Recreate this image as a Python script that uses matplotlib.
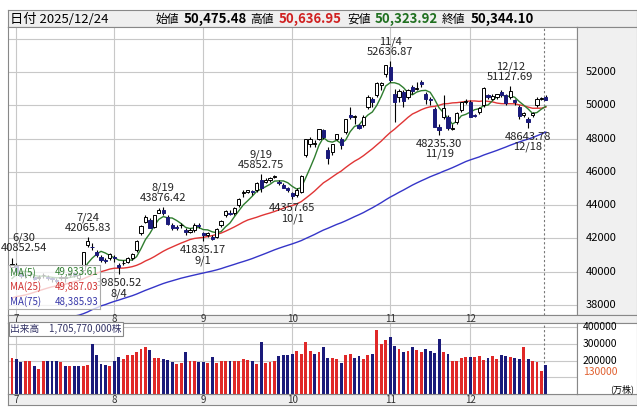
import matplotlib
matplotlib.use("Agg")
import matplotlib.pyplot as plt
import numpy as np
import pandas as pd

plt.rcParams['font.family'] = ['Noto Sans CJK JP', 'DejaVu Sans']

# closes before the visible window (for moving averages)
pre_closes = [36819,36790,37053,37396,37845,37751,37677,37608,37780,38027,37799,37120,
 35617,35624,35725,34735,33780,31136,33012,31714,34609,33585,33982,34267,33920,34377,34730,
 34279,34220,34868,35039,35705,35839,36045,
 36452,36830,36779,36928,37503,37644,38183,38128,37755,37753,37498,37529,37298,36985,37160,
 37531,37724,38722,38432,37965,
 37470,37446,37747,37554,37741,38088,38211,38421,38173,37834,38311,38536,38885,38488,38403,
 38354,38790,38942,39584,40150]

dates = ["6/30","7/1","7/2","7/3","7/4","7/7","7/8","7/9","7/10","7/11","7/14","7/15","7/16","7/17","7/18","7/22","7/23","7/24","7/25","7/28","7/29","7/30","7/31",
 "8/1","8/4","8/5","8/6","8/7","8/8","8/12","8/13","8/14","8/15","8/18","8/19","8/20","8/21","8/22","8/25","8/26","8/27","8/28","8/29",
 "9/1","9/2","9/3","9/4","9/5","9/8","9/9","9/10","9/11","9/12","9/16","9/17","9/18","9/19","9/22","9/24","9/25","9/26","9/29","9/30",
 "10/1","10/2","10/3","10/6","10/7","10/8","10/9","10/10","10/14","10/15","10/16","10/17","10/20","10/21","10/22","10/23","10/24","10/27","10/28","10/29","10/30","10/31",
 "11/4","11/5","11/6","11/7","11/10","11/11","11/12","11/13","11/14","11/17","11/18","11/19","11/20","11/21","11/25","11/26","11/27","11/28",
 "12/1","12/2","12/3","12/4","12/5","12/8","12/9","12/10","12/11","12/12","12/15","12/16","12/17","12/18","12/19","12/22","12/23","12/24"]

opens = [40300,40400,39900,39800,39800,39700,39600,39800,39700,39600,39500,39600,39600,39800,39900,39600,40100,41600,41500,41200,40900,40700,40800,
 40900,40400,40500,40600,40800,41300,42300,43000,43100,42700,43500,43700,43300,42800,42700,42800,42500,42400,42500,42800,
 42300,42200,42100,42100,42800,43400,43500,43500,44000,44700,44800,44800,44900,45500,45400,45500,45700,45400,45200,45000,
 44700,44600,44800,47000,47700,47700,48000,48500,47300,47200,48000,48000,48400,49400,49300,48800,48800,49900,50400,50600,51200,51900,
 52300,50700,50500,50800,50500,51100,51000,51400,50700,50400,49800,48700,49300,49300,48600,49000,49700,50200,
 50200,49400,49600,50000,50600,50400,50500,50800,50600,50500,50300,49900,49400,49200,49400,50000,50400,50475]
highs = [40852,40500,40000,39900,39900,39800,39800,39900,39800,39700,39600,39800,39700,40000,40000,39900,41200,42066,41700,41300,41000,40800,41100,
 41000,40500,40700,40900,41100,41900,42800,43400,43200,43400,43800,43876,43400,42900,42800,42900,42600,42600,42900,42900,
 42400,42400,42200,42600,43100,43700,43700,43900,44400,44900,44900,44900,45400,45853,45600,45700,45800,45500,45300,45100,
 44800,45000,45800,48000,48100,47900,48600,48600,47500,47700,48300,48100,49200,49900,49400,48900,49400,50600,50500,51400,51400,52400,
 52637,51000,51000,50900,51000,51200,51400,51500,50800,50500,49900,48900,50600,49400,48900,49600,50200,50400,
 50300,49500,49900,51100,50700,50700,50700,50900,50700,51128,50400,50000,49600,49300,49600,50500,50500,50637]
lows = [40300,39900,39600,39600,39700,39500,39500,39600,39500,39400,39300,39500,39400,39700,39700,39500,40000,41500,41300,40900,40600,40500,40700,
 40600,39851,40400,40500,40700,41200,42200,42900,42600,42600,43500,43400,42800,42500,42500,42600,42200,42300,42400,42600,
 41835,42100,41900,42000,42700,43300,43400,43400,43900,44500,44700,44600,44800,44800,45300,45400,45600,45200,45000,44800,
 44358,44500,44700,46900,47500,47500,47900,48000,46500,47000,47900,47400,48300,49200,48900,48600,48700,49800,49900,50500,50900,51700,
 51400,49000,50200,49900,50400,50700,50900,51100,50100,50000,48700,48235,49200,48500,48500,48900,49600,50100,
 49300,49300,49500,49900,50400,50300,50400,50500,50000,50400,50000,49200,49300,48644,49300,49900,50300,50324]
closes = [40487,39986,39762,39786,39811,39588,39688,39821,39646,39570,39459,39678,39663,39901,39819,39775,41171,41826,41456,40998,40674,40654,41069,
 40799,40290,40549,40794,41059,41820,42718,43274,42649,43378,43714,43546,42888,42610,42633,42807,42394,42520,42828,42718,
 42188,42310,41938,42580,43018,43643,43459,43837,44372,44768,44902,44790,45303,45045,45493,45630,45754,45354,45043,44932,
 44550,44936,45769,47944,47950,47734,48580,48088,46847,47672,48277,47582,49185,49316,49307,48641,49299,50512,50219,51307,51325,52411,
 51497,50212,50883,50276,50911,50842,51063,51281,50376,50323,48702,48537,49823,48625,48659,49559,50167,50253,
 49303,49383,49864,51028,50491,50581,50655,50602,50148,50836,50168,49383,49512,49001,49507,50402,50412,50344]
volumes = [215,210,190,195,200,165,150,200,200,200,200,190,165,165,170,165,170,175,300,230,180,175,170,
 200,220,210,230,235,250,270,280,260,215,215,210,205,190,180,185,250,195,195,190,
 190,185,220,185,200,195,200,200,200,210,205,200,180,310,185,190,200,225,235,230,
 240,255,240,310,255,240,250,280,215,215,210,185,235,240,215,225,210,230,240,380,300,320,
 340,285,270,250,255,280,260,250,270,255,245,330,250,240,200,195,215,220,
 220,220,225,205,215,225,210,230,225,220,215,210,280,210,195,190,140,170.577]
volumes = [v * 1000 for v in volumes]

months = ["7","8","9","10","11","12"]
month_start = ["7/1","8/1","9/1","10/1","11/4","12/1"]

hi_labels = [("6/30","40852.54"),("7/24","42065.83"),("8/19","43876.42"),("9/19","45852.75"),("11/4","52636.87"),("12/12","51127.69")]
lo_labels = [("8/4","39850.52"),("9/1","41835.17"),("10/1","44357.65"),("11/19","48235.30"),("12/18","48643.78")]

n = len(dates)
x = np.arange(n)
allc = pd.Series(pre_closes + closes)
ma5 = allc.rolling(5).mean().values[-n:]
ma25 = allc.rolling(25).mean().values[-n:]
ma75 = allc.rolling(75).mean().values[-n:]

W, H = 637, 412
fig = plt.figure(figsize=(W/100, H/100), dpi=100)
def ax_px(l, t, r, b, **kw):
    return fig.add_axes([l/W, 1-b/H, (r-l)/W, (b-t)/H], **kw)

NAVY = '#1a1a7a'
GRID = '#c8c8c8'
xl = (-0.9, 127)

# header
hd = ax_px(8, 10, 637, 27)
hd.set_facecolor('#efefef'); hd.set_xticks([]); hd.set_yticks([])
hd.set_xlim(0, 629); hd.set_ylim(0, 1)
for s in hd.spines.values(): s.set_color('#888888')
fs = 9.5
hd.text(2, 0.45, "日付 2025/12/24", fontsize=fs, va='center')
parts = [(147, "始値", 'black', 'normal'), (176, "50,475.48", 'black', 'bold'),
         (242, "高値", 'black', 'normal'), (271, "50,636.95", '#d02020', 'bold'),
         (339, "安値", 'black', 'normal'), (367, "50,323.92", '#207020', 'bold'),
         (434, "終値", 'black', 'normal'), (463, "50,344.10", 'black', 'bold')]
for px, t, c, w in parts:
    hd.text(px, 0.45, t, fontsize=fs if w == 'bold' else 8.5, color=c, weight=w, va='center')

# main price axes
ax = ax_px(8, 27, 577, 315)
ax.set_xlim(*xl); ax.set_ylim(37400, 54700)
ms_idx = [dates.index(d) for d in month_start]
for i in ms_idx:
    ax.axvline(i, color=GRID, lw=0.8, zorder=0)
for yv in range(38000, 54001, 2000):
    ax.axhline(yv, color=GRID, lw=0.8, zorder=0)
ax.axvline(119.5, color='#777777', lw=0.8, ls=(0, (2, 2)), zorder=0)
ax.plot(x, ma75, color='#3535c8', lw=1, zorder=2)
ax.plot(x, ma25, color='#e03535', lw=1, zorder=2)
ax.plot(x, ma5, color='#2f7d2f', lw=1, zorder=2)
for i in range(n):
    o, h, l, c = opens[i], highs[i], lows[i], closes[i]
    ax.vlines(i, l, h, color='black', lw=0.8, zorder=3)
    up = c >= o
    bot = min(o, c); ht = max(abs(c - o), 30)
    ax.bar(i, ht, bottom=bot, width=0.72, color='white' if up else NAVY,
           edgecolor='black' if up else NAVY, lw=0.7, zorder=4)
for d, t in hi_labels:
    i = dates.index(d)
    first = (i == 0)
    ax.annotate(f"{d}\n{t}", (i, highs[i]), xytext=(-8 if first else 0, 3), textcoords='offset points',
                ha='left' if first else 'center', va='bottom', fontsize=8, linespacing=1.0,
                color='#222222', zorder=6, multialignment='center')
for d, t in lo_labels:
    i = dates.index(d)
    ax.annotate(f"{t}\n{d}", (i, lows[i]), xytext=(0, -3), textcoords='offset points',
                ha='center', va='top', fontsize=8, linespacing=1.0, color='#222222', zorder=6)
ax.set_xticks([]); ax.set_yticks([])
for s in ax.spines.values(): s.set_color('#888888')
# MA legend
leg_txt = [("MA(5)", "49,933.61", '#2f7d2f'), ("MA(25)", "49,887.03", '#d03030'), ("MA(75)", "48,385.93", '#3535a8')]
lg = ax_px(8, 265, 100, 309)
lg.set_facecolor((1, 1, 1, 0.75)); lg.set_xticks([]); lg.set_yticks([])
for s in lg.spines.values(): s.set_color('#aaaaaa')
lg.set_xlim(0, 1); lg.set_ylim(0, 3)
for k, (a, b, c) in enumerate(leg_txt):
    lg.text(0.02, 2.5 - k, a, color=c, fontsize=7, va='center')
    lg.text(0.98, 2.5 - k, b, color=c, fontsize=7, va='center', ha='right')

# right price axis panel
rp = ax_px(577, 27, 637, 315)
rp.set_facecolor('#f0f0f0'); rp.set_xticks([]); rp.set_yticks([])
rp.set_ylim(37400, 54700); rp.set_xlim(0, 1)
for s in rp.spines.values(): s.set_color('#888888')
for yv in range(38000, 52001, 2000):
    rp.text(0.15, yv, str(yv), fontsize=8, va='center')

# month label rows
def month_row(t, b):
    mr = ax_px(8, t, 637, b)
    mr.set_facecolor('#efefef'); mr.set_xticks([]); mr.set_yticks([])
    for s in mr.spines.values(): s.set_color('#888888')
    mr.set_xlim(xl[0], xl[0] + (xl[1] - xl[0]) * 629 / 569); mr.set_ylim(0, 1)
    for i, m in zip(ms_idx, months):
        mr.text(i, 0.45, m, fontsize=7, ha='center', va='center', color='#333333')
month_row(315, 323)
month_row(394, 405)

# volume
vx = ax_px(8, 323, 577, 394)
vx.set_xlim(*xl); vx.set_ylim(0, 424000)
for i in ms_idx:
    vx.axvline(i, color=GRID, lw=0.8, zorder=0)
for yv in (100000, 200000, 300000, 400000):
    vx.axhline(yv, color=GRID, lw=0.8, zorder=0)
vx.axvline(119.5, color='#777777', lw=0.8, ls=(0, (2, 2)), zorder=0)
vcol = ['#e02828' if (i == 0 or closes[i] >= closes[i - 1]) else NAVY for i in range(n)]
vx.bar(x, volumes, width=0.65, color=vcol, zorder=2)
vx.set_xticks([]); vx.set_yticks([])
for s in vx.spines.values(): s.set_color('#888888')
vx.text(0.004, 0.985, "出来高　1,705,770,000株", transform=vx.transAxes, fontsize=7, va='top', color='#333366',
        bbox=dict(facecolor='white', edgecolor='#888888', pad=1.2, lw=0.8), zorder=5)
vr = ax_px(577, 323, 637, 394)
vr.set_facecolor('white'); vr.set_xticks([]); vr.set_yticks([])
vr.set_ylim(0, 424000); vr.set_xlim(0, 1)
for s in vr.spines.values(): s.set_color('#888888')
for yv in (400000, 300000, 200000):
    vr.text(0.1, yv, str(yv), fontsize=7.5, va='center')
vr.text(0.1, 130000, "130000", fontsize=7.5, va='center', color='#e06030')
vr.text(0.95, 30000, "(万株)", fontsize=6.5, va='center', ha='right')

fig.savefig("out.png", dpi=100, facecolor='white')
